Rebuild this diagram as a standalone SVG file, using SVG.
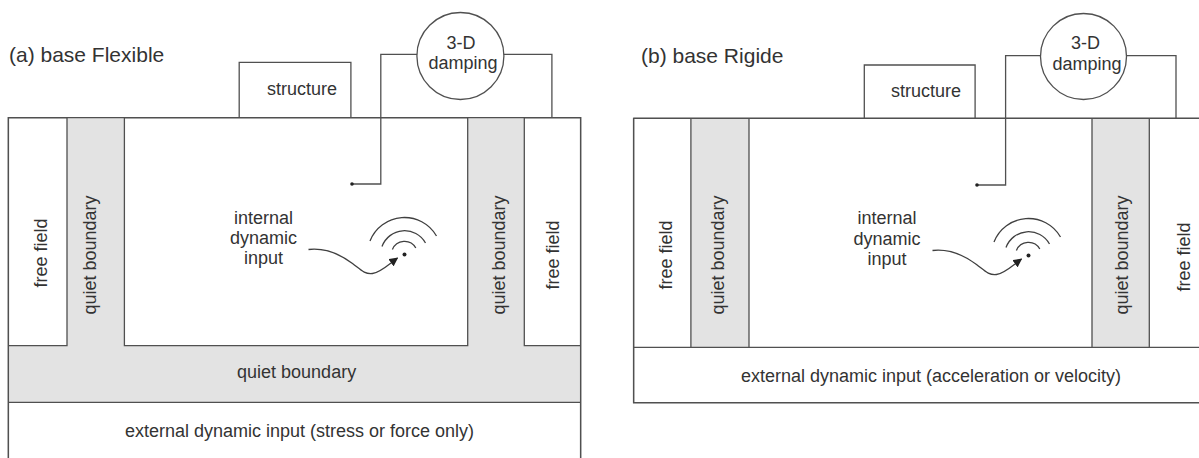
<svg xmlns="http://www.w3.org/2000/svg" width="1199" height="458" viewBox="0 0 1199 458">
<style>
text{font-family:"Liberation Sans",Arial,sans-serif;fill:#333;font-size:18px}
.mid{text-anchor:middle}
.head{font-size:21px}
.ln{fill:none;stroke:#505050;stroke-width:1.3}
.gray{fill:#e3e3e3;stroke:none}
.box{fill:#fff;stroke:#505050;stroke-width:1.3}
.wave{fill:none;stroke:#404040;stroke-width:1.3}
.dot{fill:#222}
</style>
<defs>
<marker id="ah" viewBox="0 0 10 10" refX="9" refY="5" markerWidth="9" markerHeight="9" markerUnits="userSpaceOnUse" orient="auto">
<path d="M0,0 L10,5 L0,10 z" fill="#222"/>
</marker>
<g id="src">
<path class="wave" d="M-96,-5 C-78,-7 -64,0 -52,9 C-44,15 -40,20 -32,19 C-24,18 -16,10 -7,3.5" marker-end="url(#ah)"/>
<path class="wave" d="M-12.1,-4.9 A13,13 0 0 1 11.3,-6.5"/>
<path class="wave" d="M-22.5,-8 A24,24 0 0 1 21,-11.5"/>
<path class="wave" d="M-34.5,-13.5 A37,37 0 0 1 32,-18.5"/>
<circle class="dot" cx="0" cy="0" r="2"/>
</g>
</defs>

<!-- Panel (a) -->
<g id="a-title"><text class="head" x="9" y="62">(a) base Flexible</text></g>

<g id="a-soil">
<rect class="box" x="8.4" y="117.7" width="572.2" height="345"/>
<rect class="gray" x="67" y="117.7" width="57.4" height="230"/>
<rect class="gray" x="467.7" y="117.7" width="56.6" height="230"/>
<rect class="gray" x="8.4" y="345.7" width="572.2" height="56.6"/>
<path class="ln" d="M8.4,345.7 H67 V117.7"/>
<path class="ln" d="M124.4,117.7 V345.7 H467.7 V117.7"/>
<path class="ln" d="M524.3,117.7 V345.7 H580.6"/>
<path class="ln" d="M8.4,402.3 H580.6"/>
<path class="ln" d="M8.4,462 V117.7 H580.6 V462"/>
</g>

<g id="a-freefield-left"><text class="mid" transform="translate(47,253) rotate(-90)">free field</text></g>
<g id="a-quiet-left"><text class="mid" transform="translate(96,255) rotate(-90)">quiet boundary</text></g>
<g id="a-quiet-right"><text class="mid" transform="translate(504.5,255) rotate(-90)">quiet boundary</text></g>
<g id="a-freefield-right"><text class="mid" transform="translate(559,255) rotate(-90)">free field</text></g>
<g id="a-quiet-bottom"><text class="mid" x="296.6" y="378">quiet boundary</text></g>
<g id="a-external"><text class="mid" x="299.5" y="436.5">external dynamic input (stress or force only)</text></g>

<g id="a-structure">
<path class="ln" d="M239.2,117.7 V62.3 H350.9 V117.7" fill="#fff"/>
<text class="mid" x="302" y="95">structure</text>
</g>

<g id="a-connectors">
<path class="ln" d="M418,54.3 H380.8 V184 H352"/>
<circle class="dot" cx="352" cy="184" r="1.8"/>
<path class="ln" d="M503,54.3 H551.9 V117.7"/>
</g>

<g id="a-damping">
<circle class="box" cx="460.4" cy="56" r="43.5"/>
<text class="mid" x="461" y="48.5">3-D</text>
<text class="mid" x="463" y="69">damping</text>
</g>

<g id="a-internal">
<text class="mid" x="263.5" y="224">internal</text>
<text class="mid" x="263.5" y="244">dynamic</text>
<text class="mid" x="263.5" y="264">input</text>
<use href="#src" x="404.5" y="254.5"/>
</g>

<!-- Panel (b) -->
<g id="b-title"><text class="head" x="641" y="63">(b) base Rigide</text></g>

<g id="b-soil">
<rect class="box" x="633.6" y="118.3" width="580" height="284.4"/>
<rect class="gray" x="690.9" y="118.3" width="58.1" height="229"/>
<rect class="gray" x="1092" y="118.3" width="57.3" height="229"/>
<path class="ln" d="M690.9,118.3 V347.3 M749,118.3 V347.3 M1092,118.3 V347.3 M1149.3,118.3 V347.3"/>
<path class="ln" d="M633.6,347.3 H1205"/>
<path class="ln" d="M633.6,118.3 H1205 M633.6,118.3 V402.7 H1205"/>
</g>

<g id="b-freefield-left"><text class="mid" transform="translate(672,255) rotate(-90)">free field</text></g>
<g id="b-quiet-left"><text class="mid" transform="translate(724,255) rotate(-90)">quiet boundary</text></g>
<g id="b-quiet-right"><text class="mid" transform="translate(1128,255) rotate(-90)">quiet boundary</text></g>
<g id="b-freefield-right"><text class="mid" transform="translate(1190,257) rotate(-90)">free field</text></g>
<g id="b-external"><text class="mid" x="931" y="381.5">external dynamic input (acceleration or velocity)</text></g>

<g id="b-structure">
<path class="ln" d="M864.3,118.3 V65 H975.1 V118.3" fill="#fff"/>
<text class="mid" x="926" y="97">structure</text>
</g>

<g id="b-connectors">
<path class="ln" d="M1042,55.7 H1005.6 V185 H977"/>
<circle class="dot" cx="977" cy="185" r="1.8"/>
<path class="ln" d="M1125,55.7 H1176 V118.3"/>
</g>

<g id="b-damping">
<circle class="box" cx="1083.5" cy="56.5" r="43"/>
<text class="mid" x="1085.5" y="49">3-D</text>
<text class="mid" x="1087" y="70">damping</text>
</g>

<g id="b-internal">
<text class="mid" x="887" y="224">internal</text>
<text class="mid" x="887" y="244.5">dynamic</text>
<text class="mid" x="887" y="265">input</text>
<use href="#src" x="1028.5" y="255.5"/>
</g>
</svg>
